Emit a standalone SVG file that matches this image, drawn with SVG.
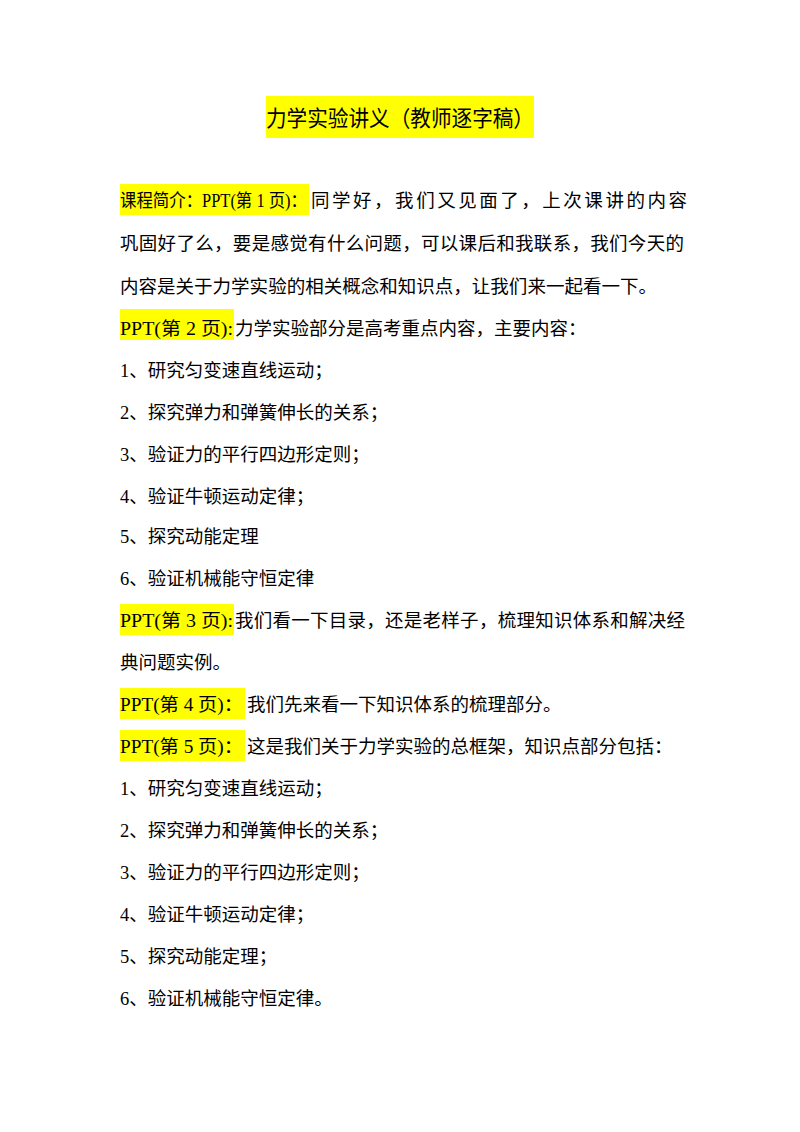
<svg xmlns="http://www.w3.org/2000/svg" width="800" height="1132" viewBox="0 0 800 1132">
<style>
text{font-family:"Liberation Serif","Noto Sans CJK SC",serif;fill:#000;font-size:18.5px}
.t{font-size:22px}
.h{fill:#ffff00}
</style>
<rect width="800" height="1132" fill="#fff"/>
<rect class="h" x="266" y="96" width="268" height="42"/>
<text class="t" x="400" y="126" text-anchor="middle" textLength="268" lengthAdjust="spacingAndGlyphs">力学实验讲义（教师逐字稿）</text>
<rect class="h" x="120" y="184" width="189" height="31"/>
<rect class="h" x="120" y="309" width="114" height="31"/>
<rect class="h" x="120" y="604" width="114" height="31"/>
<rect class="h" x="120" y="688" width="125" height="31"/>
<rect class="h" x="120" y="730" width="125" height="31"/>
<text x="120" y="207" textLength="187" lengthAdjust="spacingAndGlyphs">课程简介：PPT(第 1 页)：</text>
<text x="311" y="207" textLength="376">同学好，我们又见面了，上次课讲的内容</text>
<text x="120" y="250" textLength="564">巩固好了么，要是感觉有什么问题，可以课后和我联系，我们今天的</text>
<text x="120" y="293" textLength="537">内容是关于力学实验的相关概念和知识点，让我们来一起看一下。</text>
<text x="120" y="335" textLength="113" lengthAdjust="spacingAndGlyphs">PPT(第 2 页):</text>
<text x="235" y="335">力学实验部分是高考重点内容，主要内容：</text>
<text x="120" y="377">1、研究匀变速直线运动；</text>
<text x="120" y="419">2、探究弹力和弹簧伸长的关系；</text>
<text x="120" y="461">3、验证力的平行四边形定则；</text>
<text x="120" y="503">4、验证牛顿运动定律；</text>
<text x="120" y="543">5、探究动能定理</text>
<text x="120" y="585">6、验证机械能守恒定律</text>
<text x="120" y="627" textLength="113" lengthAdjust="spacingAndGlyphs">PPT(第 3 页):</text>
<text x="235" y="627" textLength="450">我们看一下目录，还是老样子，梳理知识体系和解决经</text>
<text x="120" y="669">典问题实例。</text>
<text x="120" y="711" textLength="123" lengthAdjust="spacingAndGlyphs">PPT(第 4 页)：</text>
<text x="247" y="711">我们先来看一下知识体系的梳理部分。</text>
<text x="120" y="753" textLength="123" lengthAdjust="spacingAndGlyphs">PPT(第 5 页)：</text>
<text x="247" y="753">这是我们关于力学实验的总框架，知识点部分包括：</text>
<text x="120" y="795">1、研究匀变速直线运动；</text>
<text x="120" y="837">2、探究弹力和弹簧伸长的关系；</text>
<text x="120" y="879">3、验证力的平行四边形定则；</text>
<text x="120" y="921">4、验证牛顿运动定律；</text>
<text x="120" y="963">5、探究动能定理；</text>
<text x="120" y="1005">6、验证机械能守恒定律。</text>
</svg>
